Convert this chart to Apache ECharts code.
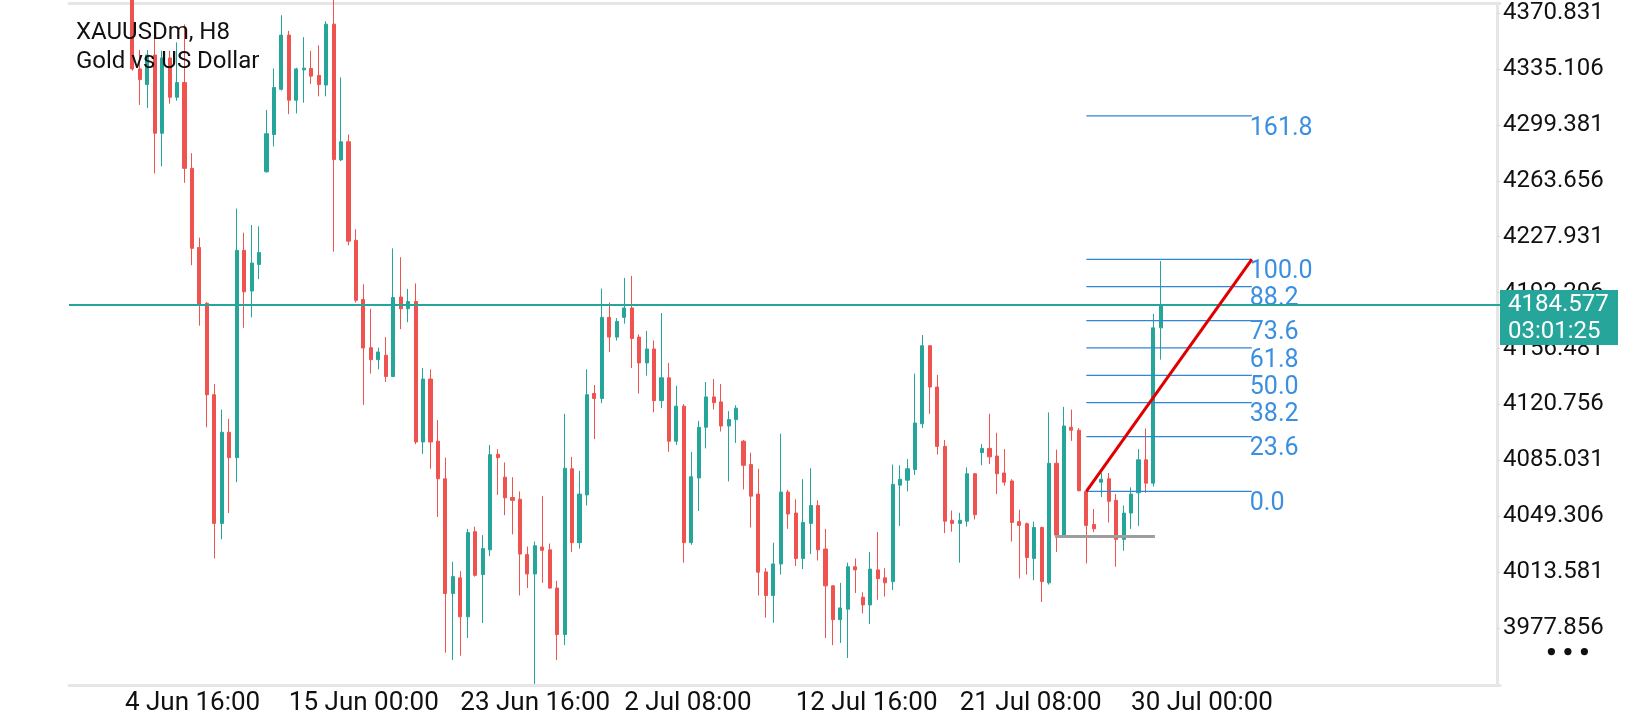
<!DOCTYPE html>
<html>
<head>
<meta charset="utf-8">
<title>XAUUSDm, H8</title>
<script src="https://cdn.jsdelivr.net/npm/echarts@6/dist/echarts.min.js"></script>
<style>
  html, body { margin: 0; padding: 0; background: #fff; }
  #chart { width: 1640px; height: 720px; }
</style>
</head>
<body>
<div id="chart"></div>
<script>
// H8 bars (oldest first)
const opens = [
  4385.0, 4335.1, 4325.1, 4344.0, 4294.0, 4342.1, 4317.0, 4326.4, 4271.6, 4221.0,
  4185.4, 4127.0, 4044.8, 4103.0, 4086.8, 4219.2, 4193.2, 4210.2, 4269.4, 4293.2,
  4322.1, 4356.7, 4315.1, 4334.5, 4335.4, 4331.0, 4324.8, 4363.7, 4277.0, 4288.6,
  4225.6, 4187.8, 4157.0, 4149.4, 4152.2, 4138.6, 4189.4, 4181.9, 4186.5, 4096.8,
  4137.0, 4097.3, 4073.3, 4000.0, 4010.0, 3985.1, 4039.5, 4012.1, 4027.9, 4088.9,
  4074.3, 4061.3, 4060.2, 4024.9, 4012.5, 4029.7, 4027.9, 4003.5, 3973.8, 4079.7,
  4032.5, 4063.0, 4127.8, 4124.6, 4176.4, 4163.8, 4176.4, 4182.4, 4163.8, 4147.3,
  4156.2, 4123.2, 4137.8, 4097.3, 4119.7, 4032.5, 4073.8, 4106.2, 4125.6, 4122.4,
  4107.0, 4111.1, 4097.3, 4082.4, 4063.5, 4013.8, 3998.7, 4018.9, 4064.8, 4051.4,
  4022.4, 4044.8, 4056.2, 4028.4, 4004.9, 3983.3, 3990.0, 4017.1, 3997.6, 3992.7,
  4015.1, 4010.0, 4007.6, 4069.2, 4072.4, 4079.2, 4108.4, 4158.3, 4131.9, 4094.0,
  4046.8, 4044.8, 4046.2, 4076.5, 4090.0, 4092.7, 4087.8, 4077.0, 4071.9, 4045.9,
  4044.6, 4022.4, 4042.2, 4006.8, 4083.2, 4037.3, 4106.2, 4104.3, 4065.2, 4044.1,
  4071.1, 4073.3, 4059.5, 4034.6, 4051.4, 4064.3, 4085.4, 4070.5, 4169.7
];
const closes = [
  4335.1, 4328.3, 4344.0, 4294.0, 4342.1, 4317.0, 4326.4, 4271.6, 4220.5, 4184.6,
  4127.0, 4044.8, 4103.0, 4086.8, 4219.2, 4192.7, 4211.1, 4217.8, 4293.7, 4323.2,
  4356.7, 4315.1, 4335.1, 4335.6, 4330.5, 4325.1, 4363.7, 4277.2, 4288.6, 4225.1,
  4187.3, 4156.8, 4149.4, 4154.3, 4138.6, 4189.1, 4181.9, 4186.5, 4096.8, 4137.0,
  4096.8, 4073.3, 4000.0, 4010.8, 3985.1, 4038.9, 4011.6, 4028.7, 4088.7, 4086.8,
  4061.1, 4059.5, 4025.2, 4012.5, 4030.5, 4027.6, 4003.5, 3973.8, 4080.0, 4032.5,
  4063.5, 4127.0, 4124.6, 4176.4, 4163.8, 4173.8, 4182.4, 4162.9, 4147.3, 4156.2,
  4123.2, 4137.8, 4097.3, 4119.7, 4032.5, 4074.6, 4106.2, 4125.6, 4121.9, 4107.0,
  4111.1, 4118.4, 4081.9, 4062.2, 4013.6, 3998.7, 4018.9, 4064.8, 4050.8, 4022.4,
  4045.4, 4056.2, 4027.9, 4004.9, 3983.3, 3990.8, 4017.1, 4015.1, 3992.7, 4015.6,
  4009.5, 4006.8, 4069.7, 4073.0, 4079.7, 4108.9, 4158.3, 4131.9, 4094.0, 4046.2,
  4044.8, 4046.8, 4076.5, 4050.3, 4092.7, 4087.3, 4076.5, 4071.1, 4045.4, 4043.5,
  4023.0, 4042.2, 4007.6, 4083.2, 4037.3, 4107.0, 4104.3, 4065.7, 4043.5, 4041.3,
  4073.0, 4058.9, 4034.6, 4051.4, 4063.5, 4085.4, 4070.5, 4169.7, 4184.577
];
const lows = [
  4334.0, 4312.1, 4310.2, 4268.4, 4272.9, 4312.9, 4314.8, 4262.4, 4209.7, 4171.1,
  4106.2, 4022.4, 4034.6, 4051.4, 4071.1, 4169.7, 4176.4, 4200.8, 4268.9, 4285.6,
  4321.3, 4306.2, 4306.7, 4313.5, 4325.6, 4317.6, 4317.6, 4218.4, 4276.2, 4222.4,
  4185.9, 4120.5, 4140.5, 4143.2, 4135.1, 4138.6, 4168.9, 4173.3, 4095.4, 4089.2,
  4079.7, 4048.9, 3962.2, 3957.5, 3960.3, 3971.6, 4010.8, 3981.1, 4023.8, 4063.0,
  4050.0, 4037.8, 3998.7, 4003.5, 3942.3, 4006.8, 4003.0, 3957.5, 3967.0, 4026.5,
  4028.7, 4056.2, 4098.6, 4121.6, 4154.3, 4161.6, 4172.4, 4144.0, 4127.8, 4139.2,
  4115.7, 4118.4, 4090.5, 4094.9, 4019.7, 4031.1, 4052.7, 4092.7, 4117.5, 4103.5,
  4071.6, 4096.2, 4066.5, 4042.2, 3998.7, 3984.6, 3981.3, 4012.1, 4041.3, 4017.6,
  4015.6, 4025.2, 4021.1, 3971.6, 3967.0, 3968.4, 3958.8, 4000.3, 3987.3, 3980.5,
  3996.0, 3998.1, 4002.2, 4043.2, 4065.2, 4075.7, 4105.7, 4114.8, 4088.7, 4038.6,
  4039.5, 4019.7, 4042.7, 4047.3, 4081.9, 4082.7, 4063.5, 4068.9, 4033.2, 4009.7,
  4012.1, 4008.4, 3994.6, 4005.7, 4026.5, 4037.3, 4097.5, 4065.2, 4019.2, 4039.2,
  4061.6, 4045.4, 4017.1, 4027.3, 4041.3, 4043.2, 4064.3, 4068.3, 4149.4
];
const highs = [
  4392.0, 4347.2, 4347.2, 4362.9, 4346.7, 4346.7, 4352.1, 4363.5, 4281.3, 4227.3,
  4186.2, 4133.8, 4117.5, 4111.6, 4245.9, 4230.5, 4235.4, 4234.6, 4308.9, 4335.4,
  4369.4, 4359.4, 4335.9, 4355.4, 4346.7, 4350.2, 4365.6, 4380.0, 4329.7, 4293.2,
  4232.7, 4197.5, 4181.9, 4157.0, 4163.8, 4220.5, 4214.8, 4194.6, 4198.1, 4144.0,
  4143.2, 4110.8, 4086.8, 4020.3, 4014.3, 4041.3, 4042.7, 4037.3, 4094.9, 4092.2,
  4083.7, 4074.3, 4065.2, 4030.0, 4033.2, 4062.2, 4031.9, 4008.1, 4114.8, 4087.3,
  4078.4, 4143.2, 4133.2, 4194.8, 4185.9, 4175.9, 4201.6, 4202.9, 4165.6, 4167.8,
  4161.6, 4179.2, 4147.3, 4132.7, 4121.0, 4090.5, 4110.3, 4135.1, 4137.0, 4133.8,
  4116.5, 4120.3, 4098.1, 4090.0, 4079.7, 4016.2, 4032.5, 4102.1, 4066.2, 4060.2,
  4073.0, 4080.0, 4059.5, 4041.3, 4005.4, 4006.8, 4019.7, 4022.4, 4000.8, 4026.5,
  4039.2, 4016.2, 4082.4, 4081.9, 4085.9, 4140.5, 4165.1, 4158.3, 4139.7, 4098.1,
  4053.0, 4051.6, 4080.6, 4077.0, 4095.4, 4114.8, 4102.7, 4092.2, 4073.0, 4053.5,
  4045.4, 4045.9, 4042.7, 4115.7, 4091.9, 4119.2, 4117.5, 4105.7, 4065.7, 4054.0,
  4077.0, 4077.0, 4063.5, 4056.2, 4067.8, 4092.2, 4105.4, 4178.6, 4212.4
];

// time axis: slot of the first bar shown, total slots incl. right shift
const firstSlot = 8;
const slotCount = 192;
const tickSlots = [7, 29, 52, 74, 97, 119, 142];
const tickLabels = ['4 Jun 16:00', '15 Jun 00:00', '23 Jun 16:00', '2 Jul 08:00',
                    '12 Jul 16:00', '21 Jul 08:00', '30 Jul 00:00'];

// price scale labels
const priceTicks = [4370.831, 4335.106, 4299.381, 4263.656, 4227.931, 4192.206,
                    4156.481, 4120.756, 4085.031, 4049.306, 4013.581, 3977.856];
const priceMin = 3941.56;
const priceMax = 4377.22;

const lastPrice = 4184.577;
const timerText = '03:01:25';

// fibonacci retracement drawn on the chart
const fibLevels = [0, 23.6, 38.2, 50, 61.8, 73.6, 88.2, 100, 161.8];
const fibFrom = { slot: 136, price: 4065.3 };
const fibTo = { slot: 158.2, price: 4213.5 };

// grey horizontal level
const levelLine = { from: 131.8, to: 145.2, price: 4036.5 };

const UP = '#26a69a';
const DOWN = '#ef5350';
const FONT = 'Roboto, "Noto Sans", sans-serif';

const categories = [];
for (let i = 0; i < slotCount; i++) {
  const k = tickSlots.indexOf(i);
  categories.push(k >= 0 ? tickLabels[k] : String(i));
}
const candles = opens.map((o, i) => [firstSlot + i, o, closes[i], lows[i], highs[i]]);
const fibPrice = (lvl) => fibFrom.price + (fibTo.price - fibFrom.price) * lvl / 100;

// category coord allowing fractional slot
function at(api, slot, price) {
  const i = Math.floor(slot);
  const p = api.coord([i, price]);
  p[0] += (slot - i) * api.size([1, 0])[0];
  return p;
}

const chart = echarts.init(document.getElementById('chart'), null, { renderer: 'canvas' });

chart.setOption({
  animation: false,
  backgroundColor: '#ffffff',
  textStyle: { fontFamily: FONT },
  title: {
    text: 'XAUUSDm, H8\nGold vs US Dollar',
    left: 76,
    top: 18,
    padding: 0,
    textStyle: { fontSize: 24, lineHeight: 29, fontWeight: 'normal', color: '#111', fontFamily: FONT }
  },
  grid: { left: 69, right: 140, top: 3, bottom: 35 },
  xAxis: [{
    type: 'category',
    data: categories,
    boundaryGap: true,
    axisLine: { lineStyle: { color: '#e6e6e6', width: 3 } },
    axisTick: {
      alignWithLabel: true,
      length: 4,
      interval: (idx) => tickSlots.includes(idx),
      lineStyle: { color: '#e0e0e0', width: 1.5 }
    },
    axisLabel: {
      interval: (idx) => tickSlots.includes(idx),
      align: 'left',
      margin: 5,
      fontSize: 26,
      color: '#111',
      fontFamily: FONT
    },
    splitLine: { show: false }
  }, {
    type: 'category',
    data: categories,
    position: 'top',
    axisLine: { lineStyle: { color: '#e6e6e6', width: 3 } },
    axisTick: { show: false },
    axisLabel: { show: false }
  }],
  yAxis: {
    type: 'value',
    position: 'right',
    offset: -3,
    min: priceMin,
    max: priceMax,
    scale: true,
    axisLine: { show: true, lineStyle: { color: '#e6e6e6', width: 3 } },
    axisTick: { show: true, length: 3, customValues: priceTicks, lineStyle: { color: '#d8d8d8' } },
    axisLabel: {
      customValues: priceTicks,
      formatter: (v) => v.toFixed(3),
      margin: 6,
      fontSize: 24,
      color: '#111',
      fontFamily: FONT
    },
    splitLine: { show: false }
  },
  series: [{
    type: 'candlestick',
    data: candles,
    encode: { x: 0, y: [1, 2, 3, 4] },
    barWidth: 3.6,
    clip: true,
    itemStyle: { color: UP, color0: DOWN, borderColor: UP, borderColor0: DOWN, borderWidth: 1 },
    markLine: {
      silent: true,
      symbol: 'none',
      label: { show: false },
      lineStyle: { color: UP, width: 2, type: 'solid' },
      data: [{ yAxis: lastPrice }]
    }
  }, {
    // grey level
    type: 'custom',
    data: [[levelLine.from, levelLine.price, levelLine.to]],
    encode: { x: 0, y: 1 },
    silent: true,
    z: 3,
    renderItem: (params, api) => {
      const a = at(api, api.value(0), api.value(1));
      const b = at(api, api.value(2), api.value(1));
      return { type: 'line', shape: { x1: a[0], y1: a[1], x2: b[0], y2: b[1] },
               style: { stroke: '#9e9e9e', lineWidth: 3 } };
    }
  }, {
    // fibonacci levels
    type: 'custom',
    data: fibLevels.map(l => [fibFrom.slot, fibPrice(l), l]),
    encode: { x: 0, y: 1 },
    silent: true,
    z: 4,
    renderItem: (params, api) => {
      const lvl = api.value(2);
      const a = at(api, fibFrom.slot, api.value(1));
      const b = at(api, fibTo.slot, api.value(1));
      return {
        type: 'group',
        children: [{
          type: 'line',
          shape: { x1: a[0], y1: a[1], x2: b[0], y2: b[1] },
          style: { stroke: '#2f86d6', lineWidth: 1.2 }
        }, {
          type: 'text',
          style: {
            text: lvl.toFixed(1), x: b[0] - 2, y: b[1] + 12.5,
            align: 'left', verticalAlign: 'middle',
            fill: '#3b8fe0', fontSize: 25, fontFamily: FONT
          }
        }]
      };
    }
  }, {
    // trend line of the retracement
    type: 'custom',
    data: [[fibFrom.slot, fibFrom.price, fibTo.slot, fibTo.price]],
    encode: { x: 0, y: 1 },
    silent: true,
    z: 5,
    renderItem: (params, api) => {
      const a = at(api, api.value(0), api.value(1));
      const b = at(api, api.value(2), api.value(3));
      return { type: 'line', shape: { x1: a[0], y1: a[1], x2: b[0], y2: b[1] },
               style: { stroke: '#e00000', lineWidth: 3 } };
    }
  }, {
    // price tag on the right scale
    type: 'custom',
    data: [[firstSlot + closes.length - 1, lastPrice]],
    encode: { x: 0, y: 1 },
    silent: true,
    clip: false,
    z: 10,
    renderItem: (params, api) => {
      const y = api.coord([0, api.value(1)])[1];
      const cs = params.coordSys;
      const x = cs.x + cs.width;
      return {
        type: 'group',
        children: [{
          type: 'rect',
          shape: { x: x, y: y - 14.5, width: 118, height: 55 },
          style: { fill: UP }
        }, {
          type: 'text',
          style: {
            text: api.value(1).toFixed(3) + '\n' + timerText,
            x: x + 8, y: y - 13.5,
            align: 'left', verticalAlign: 'top',
            lineHeight: 27, fill: '#fff', fontSize: 24, fontFamily: FONT
          }
        }]
      };
    }
  }],
  graphic: [{
    type: 'group',
    right: 52,
    top: 648,
    children: [0, 1, 2].map(i => ({
      type: 'circle', shape: { cx: i * 16.5, cy: 0, r: 3.6 }, style: { fill: '#111' }
    }))
  }]
});
</script>
</body>
</html>
